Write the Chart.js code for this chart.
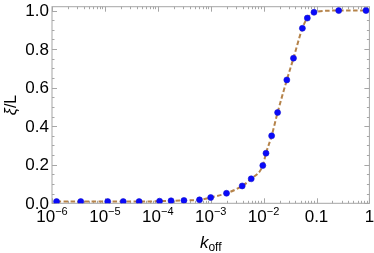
<!DOCTYPE html>
<html>
<head>
<meta charset="utf-8">
<script src="https://cdn.jsdelivr.net/npm/chart.js@4"></script>
<style>
  html, body { margin: 0; padding: 0; background: #fff; }
</style>
</head>
<body>
<canvas id="xiChart" width="374" height="253"></canvas>
<script>
// values
const kOff = [1.22e-6, 3.5e-6, 1.13e-5, 2.22e-5, 4.43e-5, 1.08e-4, 1.78e-4, 3.12e-4,
  6.14e-4, 1.0e-3, 1.99e-3, 3.94e-3, 5.83e-3, 9.66e-3, 1.11e-2, 1.42e-2, 1.84e-2,
  2.75e-2, 3.67e-2, 5.41e-2, 6.71e-2, 8.96e-2, 0.263, 0.863];
const xiOverL = [0.009, 0.009, 0.009, 0.009, 0.009, 0.011, 0.013, 0.015,
  0.018, 0.030, 0.052, 0.090, 0.127, 0.196, 0.260, 0.350, 0.471,
  0.640, 0.753, 0.908, 0.961, 0.991, 1.0, 1.0];

const xTicks = [1e-6, 1e-5, 1e-4, 1e-3, 1e-2, 0.1, 1];
const xTickBase = ["10", "10", "10", "10", "10", "0.1", "1"];
const xTickExp = ["\u22126", "\u22125", "\u22124", "\u22123", "\u22122", "", ""];
const yTicks = [0, 0.2, 0.4, 0.6, 0.8, 1.0];
const yTickLabels = ["0.0", "0.2", "0.4", "0.6", "0.8", "1.0"];

const points = kOff.map((k, i) => ({ x: k, y: xiOverL[i] }));

const frameColor = "#a6a6a6";
const fontFam = "'Liberation Sans', Arial, sans-serif";

// frame, inward ticks and labels in the Mathematica look
const framePlugin = {
  id: "frame",
  beforeDatasetsDraw(chart) {
    const ctx = chart.ctx;
    const a = chart.chartArea;
    const xs = chart.scales.x;
    const ys = chart.scales.y;
    ctx.save();
    ctx.strokeStyle = frameColor;
    ctx.lineWidth = 1;
    ctx.strokeRect(a.left, a.top, a.right - a.left, a.bottom - a.top);

    ctx.beginPath();
    // x ticks, bottom and top
    for (let d = -6; d <= 0; d++) {
      for (let m = 1; m <= 9; m++) {
        const v = m * Math.pow(10, d);
        if (v > 1.0000001) break;
        const px = Math.round(xs.getPixelForValue(v)) + 0.5;
        const len = m === 1 ? 5 : 2.5;
        ctx.moveTo(px, a.bottom); ctx.lineTo(px, a.bottom - len);
        ctx.moveTo(px, a.top); ctx.lineTo(px, a.top + len);
      }
    }
    // y ticks, left and right
    for (let i = 0; i <= 20; i++) {
      const v = i * 0.05;
      const py = Math.round(ys.getPixelForValue(v)) + 0.5;
      const len = i % 4 === 0 ? 5 : 2.5;
      ctx.moveTo(a.left, py); ctx.lineTo(a.left + len, py);
      ctx.moveTo(a.right, py); ctx.lineTo(a.right - len, py);
    }
    ctx.stroke();
    ctx.restore();
  },
  afterDraw(chart) {
    const ctx = chart.ctx;
    const a = chart.chartArea;
    const xs = chart.scales.x;
    const ys = chart.scales.y;
    ctx.save();
    ctx.fillStyle = "#000";

    // y tick labels
    ctx.font = "17px " + fontFam;
    ctx.textAlign = "right";
    ctx.textBaseline = "middle";
    yTicks.forEach((v, i) => {
      ctx.fillText(yTickLabels[i], a.left - 3, ys.getPixelForValue(v) + 1);
    });

    // x tick labels, with superscript exponents
    ctx.textAlign = "left";
    ctx.textBaseline = "alphabetic";
    xTicks.forEach((v, i) => {
      ctx.font = "17px " + fontFam;
      const wb = ctx.measureText(xTickBase[i]).width;
      ctx.font = "11px " + fontFam;
      const we = xTickExp[i] ? ctx.measureText(xTickExp[i]).width : 0;
      const x0 = xs.getPixelForValue(v) - (wb + we) / 2;
      ctx.font = "17px " + fontFam;
      ctx.fillText(xTickBase[i], x0, 221.5);
      if (xTickExp[i]) {
        ctx.font = "11px " + fontFam;
        ctx.fillText(xTickExp[i], x0 + wb, 214.5);
      }
    });

    // x title: k_off
    ctx.font = "italic 17px " + fontFam;
    const wk = ctx.measureText("k").width;
    ctx.font = "12px " + fontFam;
    const wo = ctx.measureText("off").width;
    const cx = (a.left + a.right) / 2 - (wk + wo) / 2;
    ctx.font = "italic 17px " + fontFam;
    ctx.fillText("k", cx, 248.3);
    ctx.font = "12px " + fontFam;
    ctx.fillText("off", cx + wk, 250.7);

    // y title: ξ/L
    ctx.translate(16, 105);
    ctx.rotate(-Math.PI / 2);
    ctx.font = "italic 16px " + fontFam;
    const wx = ctx.measureText("\u03be").width;
    ctx.font = "16px " + fontFam;
    const wl = ctx.measureText("/L").width;
    ctx.font = "italic 16px " + fontFam;
    ctx.fillText("\u03be", -(wx + wl) / 2, 0);
    ctx.font = "16px " + fontFam;
    ctx.fillText("/L", -(wx + wl) / 2 + wx, 0);
    ctx.restore();
  }
};

new Chart(document.getElementById("xiChart"), {
  type: "scatter",
  data: {
    datasets: [
      {
        label: "points",
        data: points,
        showLine: false,
        pointRadius: 3,
        pointBackgroundColor: "rgb(10,10,250)",
        pointBorderColor: "rgb(20,20,210)",
        pointBorderWidth: 0.6,
        order: 1
      },
      {
        label: "fit",
        data: points,
        showLine: true,
        pointRadius: 0,
        borderColor: "#b5834a",
        borderWidth: 2,
        borderDash: [4.5, 2.5],
        cubicInterpolationMode: "monotone",
        order: 2
      }
    ]
  },
  options: {
    responsive: false,
    animation: false,
    devicePixelRatio: 1,
    layout: { padding: { left: 52, top: 6.7, right: 1.3, bottom: 49.7 } },
    plugins: {
      legend: { display: false },
      tooltip: { enabled: false }
    },
    scales: {
      x: { type: "logarithmic", min: 1e-6, max: 1, display: false },
      y: { type: "linear", min: 0, max: 1.02, display: false }
    }
  },
  plugins: [framePlugin]
});
</script>
</body>
</html>
